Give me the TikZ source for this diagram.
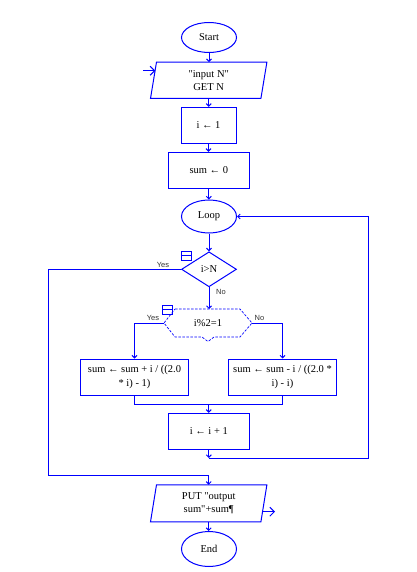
\documentclass[tikz,border=0pt]{standalone}
\usepackage{fontspec}
\setmainfont{Liberation Serif}[Ligatures=TeXOff]
\newfontfamily\labfont{Liberation Sans}
\usetikzlibrary{shapes.geometric,arrows.meta,calc}
\definecolor{fcblue}{RGB}{0,0,255}
\definecolor{labgray}{RGB}{50,50,50}
\begin{document}
\begin{tikzpicture}[x=1pt,y=-1pt,
  line/.style={draw=fcblue,line width=1pt},
  arr/.style={line,-{Straight Barb[length=2.5pt,width=5pt]}},
  bigarr/.style={line,-{Straight Barb[length=4.5pt,width=9pt]}},
  txt/.style={font=\fontsize{10.5}{13.3}\selectfont,align=center,text=black,inner sep=0pt},
  term/.style={ellipse,draw=fcblue,line width=1pt,minimum width=55pt,inner sep=0pt,txt},
  proc/.style={rectangle,draw=fcblue,line width=1pt,minimum height=36pt,inner sep=0pt,txt},
  lab/.style={font=\labfont\fontsize{7.5}{8}\selectfont,text=labgray,inner sep=0pt},
  icon/.style={draw=fcblue,line width=1pt,minimum width=10pt,minimum height=9pt,inner sep=0pt},
]
\useasboundingbox (0,0) rectangle (416,572);

% nodes
\node[term,minimum height=30pt] (start) at (209,37.5) {Start};
\node[txt,minimum width=110pt,minimum height=36pt] (inp) at (208.7,80.3) {"input N"\\GET N};
\draw[line] ([xshift=3pt]inp.north west) -- ([xshift=3pt]inp.north east) -- ([xshift=-3pt]inp.south east) -- ([xshift=-3pt]inp.south west) -- cycle;
\node[proc,minimum width=55pt] (i1) at (208.5,125.3) {i ← 1};
\node[proc,minimum width=81pt] (s0) at (208.8,170.3) {sum ← 0};
\node[term,minimum height=33pt] (loop) at (209,216.5) {Loop};
\node[diamond,draw=fcblue,line width=1pt,minimum width=55pt,minimum height=35pt,inner sep=0pt,txt] (d1) at (209,269.3) {i>N};

\node[txt] (hx) at (208,323) {i\%2=1};
\draw[draw=fcblue,line width=0.7pt,dash pattern=on 2.5pt off 1.5pt]
  ($(hx)+(-33,-14)$) -- ($(hx)+(32,-14)$) -- ($(hx)+(44,0)$) -- ($(hx)+(32,14)$) -- ($(hx)+(6,14)$) -- ($(hx)+(0,18.5)$) -- ($(hx)+(-6,14)$) -- ($(hx)+(-33,14)$) -- ($(hx)+(-44,0)$) -- cycle;
\coordinate (hxt) at ($(hx)+(1,-14)$);
\coordinate (hxl) at ($(hx)+(-44,0)$);
\coordinate (hxr) at ($(hx)+(44,0)$);

\node[proc,minimum width=108pt] (bl) at (134.5,377) {sum ← sum + i / ((2.0\\* i) - 1)};
\node[proc,minimum width=108pt] (br) at (282.5,377) {sum ← sum - i / ((2.0 *\\i) - i)};
\node[proc,minimum width=81pt] (inc) at (208.8,431.3) {i ← i + 1};

\node[txt,minimum width=110pt,minimum height=36.7pt] (out) at (208.7,503.3) {PUT "output\\sum"+sum¶};
\draw[line] ([xshift=3pt]out.north west) -- ([xshift=3pt]out.north east) -- ([xshift=-3pt]out.south east) -- ([xshift=-3pt]out.south west) -- cycle;
\node[term,minimum height=35pt] (end) at (209,549) {End};

% icons
\node[icon] (ic1) at (186.3,255.8) {};
\draw[line] (ic1.west) -- (ic1.east);
\node[icon] (ic2) at (167.8,309.5) {};
\draw[line] (ic2.west) -- (ic2.east);

% connectors
\draw[arr] (start.south) -- (start.south |- inp.north);
\draw[arr] (inp.south) -- (inp.south |- i1.north);
\draw[arr] (i1.south) -- (i1.south |- s0.north);
\draw[arr] (s0.south) -- (s0.south |- loop.north);
\draw[arr] (loop.south) -- (loop.south |- d1.north);

\coordinate (lc) at (48,475);
\coordinate (lj) at (out.north |- lc);
\draw[line] (d1.west) -| (lc) -- (lj);
\draw[arr] (lj) -- (out.north);
\node[lab] (y1) at (163,265) {Yes};

\draw[arr] (d1.south) -- (d1.south |- hxt);
\node[lab] (n1) at (221,292) {No};

\draw[arr] (hxl) -| (bl.north);
\draw[arr] (hxr) -| (br.north);
\node[lab] (y2) at (153,318) {Yes};
\node[lab] (n2) at (259.5,318) {No};

\coordinate (my) at (0,404);
\draw[line] (bl.south) -- (bl.south |- my) -- (br.south |- my) -- (br.south);
\draw[arr] (inc.north |- my) -- (inc.north);

\coordinate (rb) at (368.3,458);
\coordinate (j2) at (inc.south |- rb);
\draw[arr] (inc.south) -- (j2);
\draw[arr] (j2) -- (rb) |- (loop.east);

\coordinate (ia) at (143,70.7);
\coordinate (ib) at (155.3,70.7);
\draw[bigarr] (ia) -- (ib);
\coordinate (oa) at (261.8,511.7);
\coordinate (ob) at (275,511.7);
\draw[bigarr] (oa) -- (ob);

\draw[arr] (out.south) -- (out.south |- end.north);
\end{tikzpicture}
\end{document}
